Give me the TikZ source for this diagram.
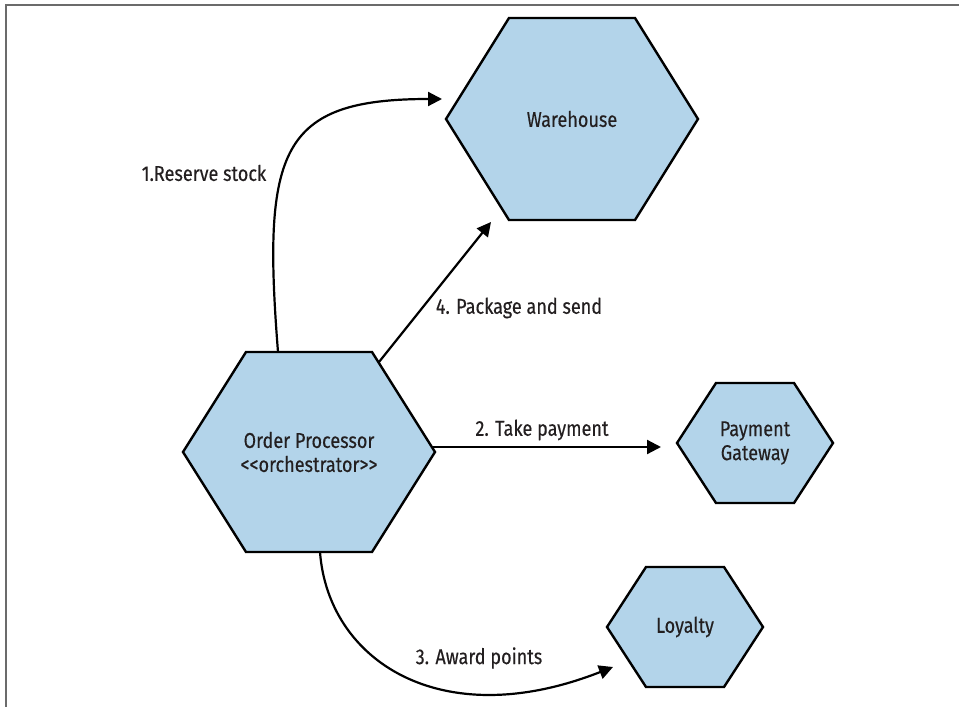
\documentclass[tikz,border=0pt]{standalone}
\usepackage{fontspec}
\setmainfont{Fira Sans}[FakeStretch=0.84,FakeBold=0.3,Ligatures=TeXOff]
\usetikzlibrary{arrows.meta,calc,backgrounds}
\definecolor{hexfill}{HTML}{B3D4EA}
\definecolor{txt}{HTML}{231F20}
\definecolor{framegray}{HTML}{6B6B6B}
\tikzset{
  hexbox/.style={draw=black, line width=2.4pt, fill=hexfill, line join=miter},
  lbl/.style={font=\fontsize{21.5}{24}\selectfont, text=txt, align=center, inner sep=0pt},
  conn/.style={draw=black, line width=2.2pt, -{Triangle[length=14pt,width=14pt]}},
  elabel/.style={font=\fontsize{21.5}{24}\selectfont, text=txt, inner sep=0pt},
}
\newcommand{\hexpath}[4]{%
  \path[hexbox] (#1-#3,#2) -- (#1-#3/2,#2-#4) -- (#1+#3/2,#2-#4) -- (#1+#3,#2)
    -- (#1+#3/2,#2+#4) -- (#1-#3/2,#2+#4) -- cycle;}
\begin{document}
\begin{tikzpicture}[x=1pt,y=-1pt]
\useasboundingbox (0,0) rectangle (959,707);
\draw[framegray, line width=1.4pt] (6,707) -- (6,5) -- (959,5);

% hexagons
\hexpath{572}{119}{126}{101}
\hexpath{309}{452}{126}{100}
\hexpath{755}{443}{78}{60}
\hexpath{685}{627}{78}{60}

\node[lbl] (wh) at (572,119) {Warehouse};
\node[lbl] (op) at (309,452) {Order Processor\\<\kern0pt<orchestrator>\kern0pt>};
\node[lbl] (pg) at (755,443) {Payment\\Gateway};
\node[lbl] (ly) at (685,627) {Loyalty};

% connectors
\draw[conn] ($(op)+(-31,-100)$) .. controls (262,150) and (280,99) .. ($(wh)+(-130,-20)$);
\draw[conn] ($(op)+(70,-90)$) -- ($(wh)+(-81,103)$);
\draw[conn] ($(op)+(124,-5)$) -- ($(pg)+(-94,4)$);
\draw[conn] ($(op)+(11,100)$) .. controls (328,660) and (440,735) .. ($(ly)+(-72,40)$);

% labels
\node[elabel] (l1) at (204,173) {1.Reserve stock};
\node[elabel] (l4) at (519,308) {4. Package and send};
\node[elabel] (l2) at (542,430) {2. Take payment};
\node[elabel] (l3) at (479,658) {3. Award points};
\end{tikzpicture}
\end{document}
